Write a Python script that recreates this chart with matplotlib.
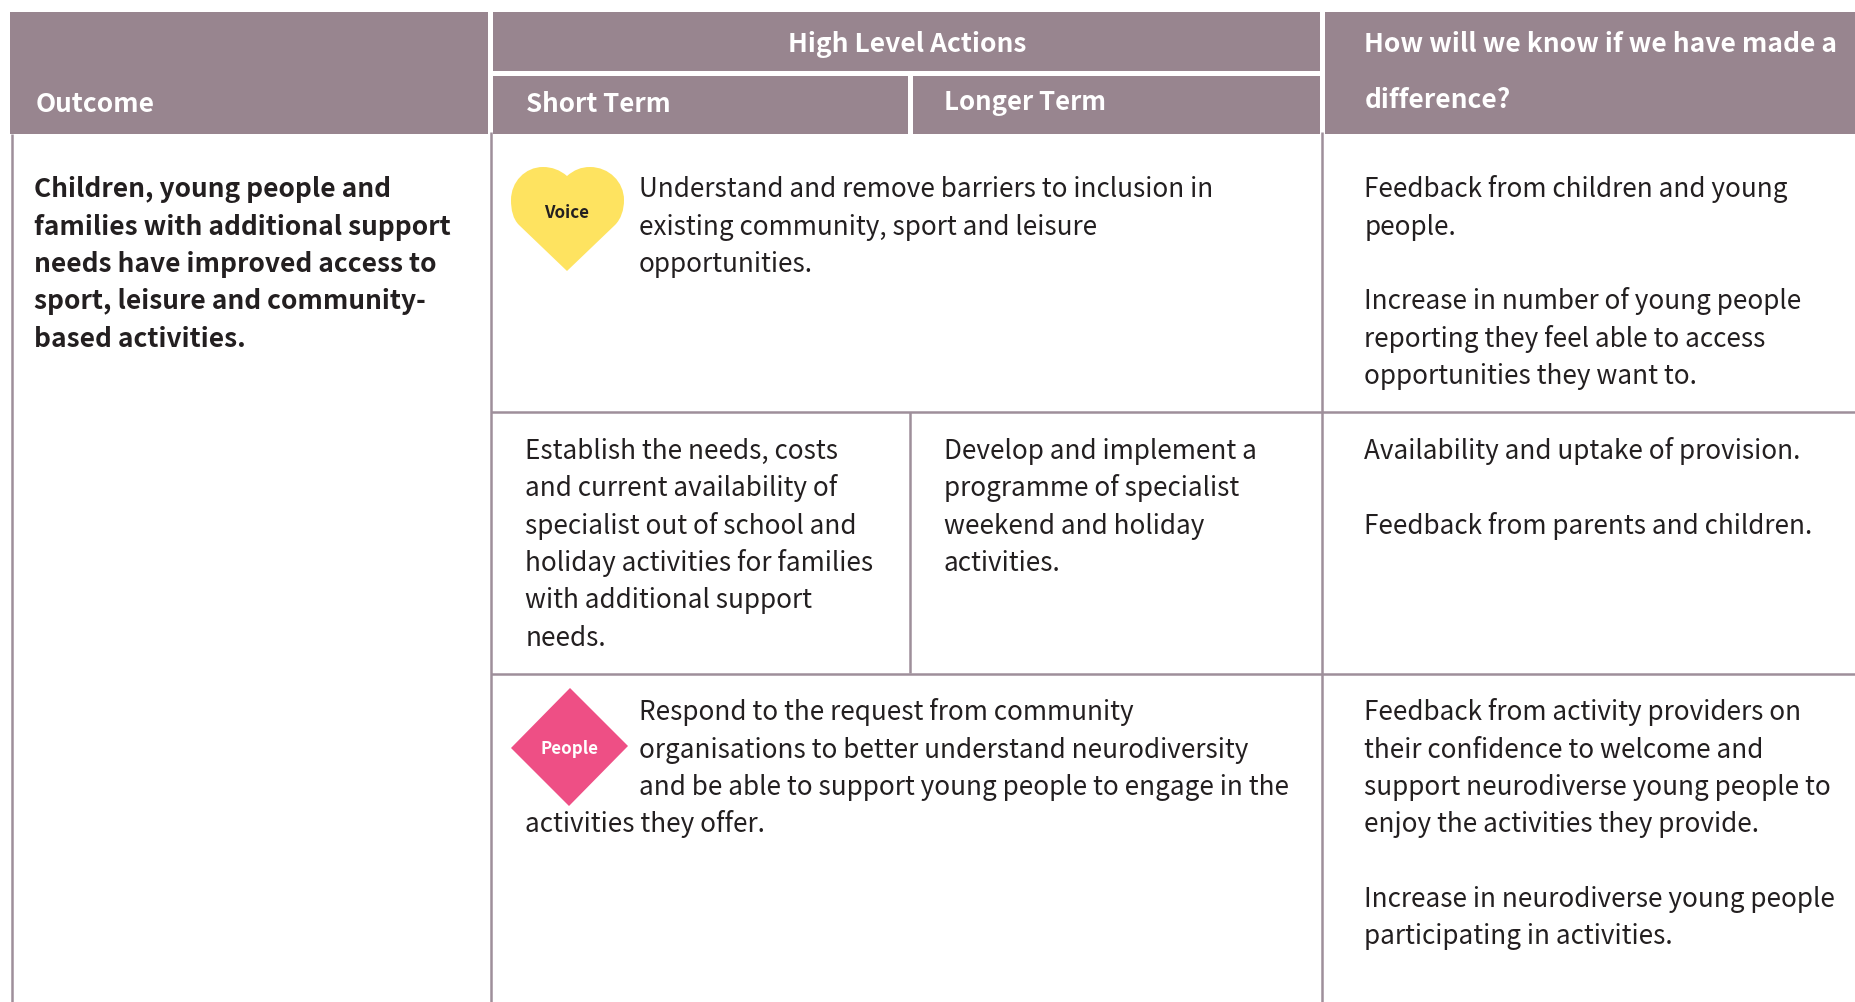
import matplotlib
matplotlib.use('Agg')
import matplotlib.pyplot as plt
from matplotlib.patches import Polygon, Rectangle, PathPatch
from matplotlib.path import Path

plt.rcParams['font.family'] = ['Noto Sans CJK SC', 'DejaVu Sans']

# table text, one entry per printed line ('' is a blank line)
header_outcome = 'Outcome'
header_actions = 'High Level Actions'
header_short = 'Short Term'
header_longer = 'Longer Term'
header_know = ['How will we know if we have made a', 'difference?']

outcome_lines = ['Children, young people and', 'families with additional support',
                 'needs have improved access to', 'sport, leisure and community-',
                 'based activities.']

voice_label = 'Voice'
voice_lines = ['Understand and remove barriers to inclusion in',
               'existing community, sport and leisure', 'opportunities.']
voice_know = ['Feedback from children and young', 'people.', '',
              'Increase in number of young people', 'reporting they feel able to access',
              'opportunities they want to.']

short_lines = ['Establish the needs, costs', 'and current availability of',
               'specialist out of school and', 'holiday activities for families',
               'with additional support', 'needs.']
longer_lines = ['Develop and implement a', 'programme of specialist',
                'weekend and holiday', 'activities.']
middle_know = ['Availability and uptake of provision.', '',
               'Feedback from parents and children.']

people_label = 'People'
people_lines = ['Respond to the request from community',
                'organisations to better understand neurodiversity',
                'and be able to support young people to engage in the']
people_last = 'activities they offer.'
people_know = ['Feedback from activity providers on', 'their confidence to welcome and',
               'support neurodiverse young people to', 'enjoy the activities they provide.', '',
               'Increase in neurodiverse young people', 'participating in activities.']

HEAD = '#98858f'
LINE = '#9e8f9a'
INK = '#231f20'
FS = 18.8
FS_BOLD = 18.95
STEP = 37.35

fig = plt.figure(figsize=(18.56, 10.02), dpi=100)
ax = fig.add_axes([0, 0, 1, 1])
ax.set_xlim(0, 1856)
ax.set_ylim(1002, 0)
ax.axis('off')


def box(x0, y0, x1, y1):
    ax.add_patch(Rectangle((x0, y0), x1 - x0, y1 - y0, fc=HEAD, ec='none'))


def lines(x, y, rows, color=INK, weight='normal', size=None):
    if size is None:
        size = FS_BOLD if weight == 'bold' else FS
    for i, row in enumerate(rows):
        if row:
            ax.text(x, y + i * STEP, row, fontsize=size, color=color,
                    fontweight=weight, va='baseline', ha='left')


# header blocks
box(10, 12, 488, 134)
box(493, 12, 1320, 70.5)
box(493, 76, 908, 134)
box(913, 76, 1320, 134)
box(1325, 12, 1856, 134)

# grid lines
for x, y0, y1 in [(12.5, 134, 1002), (491.5, 132, 1002), (1322.5, 132, 1002),
                  (910.4, 412, 673)]:
    ax.plot([x, x], [y0, y1], color=LINE, lw=1.8, solid_capstyle='butt')
for y in [412, 673.7]:
    ax.plot([491, 1856], [y, y], color=LINE, lw=1.8, solid_capstyle='butt')

# header text
white = dict(color='white', weight='bold')
lines(35.5, 112.3, [header_outcome], **white)
ax.text(907, 52, header_actions, fontsize=19, color='white', fontweight='bold', ha='center', va='baseline')
lines(526.5, 112, [header_short], color='white', weight='bold', size=18.7)
lines(944, 110, [header_longer], color='white', weight='bold', size=18.6)
lines(1364.5, 52, [header_know[0]], color='white', weight='bold', size=19)
lines(1364.5, 108, [header_know[1]], **white)

# first column
lines(34, 197.3, outcome_lines, weight='bold')

# voice row
heart = Path([(567, 176),
              (574, 170), (581, 167), (590, 167),
              (609, 167), (624, 182), (624, 200),
              (624, 210), (621, 219), (615, 225),
              (567, 271), (519, 225),
              (513, 219), (511, 210), (511, 200),
              (511, 182), (525, 167), (543, 167),
              (552, 167), (560, 170), (567, 176)],
             [Path.MOVETO,
              Path.CURVE4, Path.CURVE4, Path.CURVE4,
              Path.CURVE4, Path.CURVE4, Path.CURVE4,
              Path.CURVE4, Path.CURVE4, Path.CURVE4,
              Path.LINETO, Path.LINETO,
              Path.CURVE4, Path.CURVE4, Path.CURVE4,
              Path.CURVE4, Path.CURVE4, Path.CURVE4,
              Path.CURVE4, Path.CURVE4, Path.CURVE4])
ax.add_patch(PathPatch(heart, fc='#fee360', ec='none'))
ax.text(567, 218, voice_label, fontsize=12.2, color=INK, fontweight='bold', ha='center', va='baseline')
lines(639, 197.3, voice_lines)
lines(1364.5, 197.3, voice_know)

# middle row
lines(525.5, 458.8, short_lines)
lines(944, 458.8, longer_lines)
lines(1364.5, 458.8, middle_know)

# people row
ax.add_patch(Polygon([(570, 688), (628, 746), (569, 806), (511, 748)], fc='#ee4f85', ec='none'))
ax.text(569.5, 754, people_label, fontsize=12.2, color='white', fontweight='bold', ha='center', va='baseline')
lines(639, 720.3, people_lines)
lines(525.5, 720.3 + 3 * STEP, [people_last])
lines(1364.5, 720.3, people_know)

fig.savefig('out.png', dpi=100, facecolor='white')
